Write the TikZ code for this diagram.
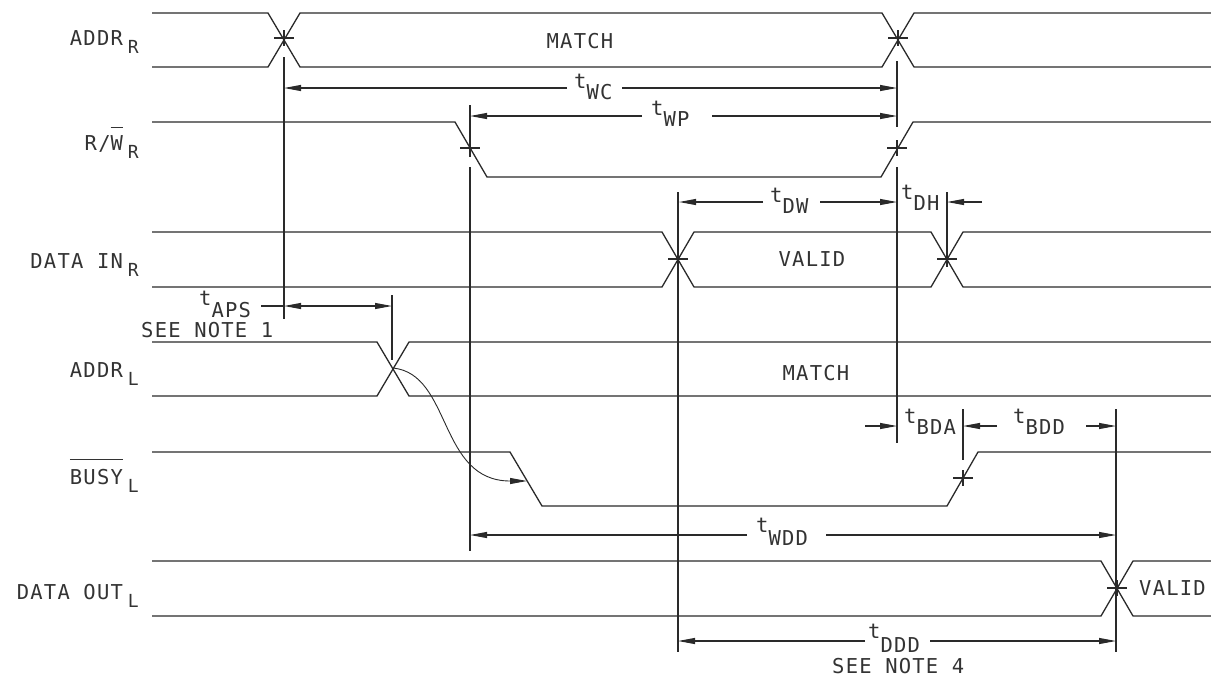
\documentclass[tikz,border=0pt]{standalone}
\usepackage{fontspec}
\newfontfamily\cad[LetterSpace=6]{DejaVu Sans Mono}
\usetikzlibrary{arrows.meta}
\definecolor{ink}{HTML}{2A2A2A}
\definecolor{txt}{HTML}{333333}
\newcommand\sg[1]{\hspace{5pt}\raisebox{-8pt}{\fontsize{18}{18}\selectfont #1}}
\newcommand\tsb[1]{\raisebox{-11pt}{#1}}
\newcommand\ovl[2]{\setbox0\hbox{#2}\rlap{\rule[#1]{\wd0}{1pt}}#2}
\tikzset{
  sig/.style={ink, line width=1.3pt},
  ext/.style={ink, line width=1.1pt},
  tk/.style={ink, line width=1.1pt},
  dim/.style={ink, line width=1.1pt, -{Triangle[length=17pt,width=6pt]}},
  lbl/.style={inner sep=0pt, text=txt, font=\cad\fontsize{20.5}{24}\selectfont},
}
\newcommand\crossmk[2]{\draw[tk] (#1,#2) +(-10,0) -- +(10,0) +(0,-8) -- +(0,8);}
\begin{document}
\begin{tikzpicture}[x=1pt,y=-1pt]
\useasboundingbox (0,0) rectangle (1211,681);

% ---------- signal names ----------
\node[lbl, anchor=base east] (nAddrR) at (139,45) {ADDR\sg{R}};
\node[lbl, anchor=base east] (nRwR) at (139,150) {R/\ovl{22pt}{W}\sg{R}};
\node[lbl, anchor=base east] (nDinR) at (139,268) {DATA IN\sg{R}};
\node[lbl, anchor=base east] (nAddrL) at (139,377) {ADDR\sg{L}};
\node[lbl, anchor=base east] (nBusyL) at (139,484) {\ovl{24pt}{BUSY}\sg{L}};
\node[lbl, anchor=base east] (nDoutL) at (139,599) {DATA OUT\sg{L}};

% ---------- waveforms ----------
% ADDR_R
\draw[sig] (152,13) -- (268,13) -- (300,67) -- (882,67) -- (914,13) -- (1211,13);
\draw[sig] (152,67) -- (268,67) -- (300,13) -- (882,13) -- (914,67) -- (1211,67);
\node[lbl, anchor=base] (mR) at (580,48) {MATCH};
% R/W_R
\draw[sig] (152,122) -- (455,122) -- (487,177) -- (881,177) -- (913,122) -- (1211,122);
% DATA IN_R
\draw[sig] (152,232) -- (662,232) -- (694,287) -- (931,287) -- (963,232) -- (1211,232);
\draw[sig] (152,287) -- (662,287) -- (694,232) -- (931,232) -- (963,287) -- (1211,287);
\node[lbl, anchor=base] (vR) at (812,266) {VALID};
% ADDR_L
\draw[sig] (152,342) -- (377,342) -- (409,396) -- (1211,396);
\draw[sig] (152,396) -- (377,396) -- (409,342) -- (1211,342);
\node[lbl, anchor=base] (mL) at (816,380) {MATCH};
% BUSY_L
\draw[sig] (152,452) -- (510,452) -- (542,506) -- (947,506) -- (978,452) -- (1211,452);
% DATA OUT_L
\draw[sig] (152,561) -- (1101,561) -- (1133,616) -- (1211,616);
\draw[sig] (152,616) -- (1101,616) -- (1133,561) -- (1211,561);
\node[lbl, anchor=base west] (vL) at (1139,595) {VALID};

% ---------- crossing marks ----------
\crossmk{284}{38}
\crossmk{898}{38}
\crossmk{470}{148}
\crossmk{897}{148}
\crossmk{678}{259}
\crossmk{947}{259}
\crossmk{963}{478}
\crossmk{1117}{588}

% ---------- extension lines ----------
\coordinate (a1) at (284,57);   \coordinate (a2) at (284,319);
\coordinate (b1) at (470,105);  \coordinate (b2) at (470,157);
\coordinate (b3) at (470,167);  \coordinate (b4) at (470,551);
\coordinate (c1) at (897,61);   \coordinate (c2) at (897,127);
\coordinate (c3) at (897,167);  \coordinate (c4) at (897,443);
\coordinate (d1) at (678,192);  \coordinate (d2) at (678,652);
\coordinate (e1) at (947,192);  \coordinate (e2) at (947,266);
\coordinate (f1) at (963,409);  \coordinate (f2) at (963,460);
\coordinate (g1) at (1116,409); \coordinate (g2) at (1116,652);
\coordinate (h1) at (392,295);  \coordinate (h2) at (392,360);
\draw[ext] (a1) -- (a2);
\draw[ext] (b1) -- (b2) (b3) -- (b4);
\draw[ext] (c1) -- (c2) (c3) -- (c4);
\draw[ext] (d1) -- (d2);
\draw[ext] (e1) -- (e2);
\draw[ext] (f1) -- (f2);
\draw[ext] (g1) -- (g2);
\draw[ext] (h1) -- (h2);

% ---------- timing labels ----------
\node[lbl, anchor=base west] (tWC) at (574,88) {t\tsb{WC}};
\node[lbl, anchor=base west] (tWP) at (651,115) {t\tsb{WP}};
\node[lbl, anchor=base west] (tDW) at (770,202) {t\tsb{DW}};
\node[lbl, anchor=base west] (tDH) at (901,199) {t\tsb{DH}};
\node[lbl, anchor=base west] (tAPS) at (199,305) {t\raisebox{-12pt}{APS}};
\node[lbl, anchor=base west] (n1) at (141,337) {SEE NOTE 1};
\node[lbl, anchor=base west] (tBDA) at (904,423) {t\tsb{BDA}};
\node[lbl, anchor=base west] (tBDD) at (1013,423) {t\tsb{BDD}};
\node[lbl, anchor=base west] (tWDD) at (756,532) {t\raisebox{-13pt}{WDD}};
\node[lbl, anchor=base west] (tDDD) at (868,638) {t\raisebox{-14pt}{DDD}};
\node[lbl, anchor=base west] (n4) at (832,673) {SEE NOTE 4};

% ---------- dimension arrows ----------
% t_WC
\coordinate (wcA) at (567,88);  \coordinate (wcL) at (284,88);
\coordinate (wcB) at (622,88);  \coordinate (wcR) at (897,88);
\draw[dim] (wcA) -- (wcL);
\draw[dim] (wcB) -- (wcR);
% t_WP
\coordinate (wpA) at (642,116); \coordinate (wpL) at (470,116);
\coordinate (wpB) at (712,116); \coordinate (wpR) at (897,116);
\draw[dim] (wpA) -- (wpL);
\draw[dim] (wpB) -- (wpR);
% t_DW
\coordinate (dwA) at (763,202); \coordinate (dwL) at (679,202);
\coordinate (dwB) at (820,202); \coordinate (dwR) at (897,202);
\draw[dim] (dwA) -- (dwL);
\draw[dim] (dwB) -- (dwR);
% t_DH
\coordinate (dhA) at (982,202); \coordinate (dhR) at (947,202);
\draw[dim] (dhA) -- (dhR);
% t_APS
\coordinate (apsT) at (261,306); \coordinate (apsL) at (284,306);
\coordinate (apsR) at (392,306);
\draw[ext] (apsT) -- (apsL);
\draw[dim, {Triangle[length=17pt,width=6pt]}-{Triangle[length=17pt,width=6pt]}] (apsL) -- (apsR);
% t_BDA / t_BDD
\coordinate (bdaA) at (865,426); \coordinate (bdaR) at (897,426);
\coordinate (bddA) at (997,426); \coordinate (bddL) at (963,426);
\coordinate (bddB) at (1086,426); \coordinate (bddR) at (1116,426);
\draw[dim] (bdaA) -- (bdaR);
\draw[dim] (bddA) -- (bddL);
\draw[dim] (bddB) -- (bddR);
% t_WDD
\coordinate (wdA) at (747,535); \coordinate (wdL) at (470,535);
\coordinate (wdB) at (826,535); \coordinate (wdR) at (1116,535);
\draw[dim] (wdA) -- (wdL);
\draw[dim] (wdB) -- (wdR);
% t_DDD
\coordinate (ddA) at (865,641); \coordinate (ddL) at (678,641);
\coordinate (ddB) at (930,641); \coordinate (ddR) at (1116,641);
\draw[dim] (ddA) -- (ddL);
\draw[dim] (ddB) -- (ddR);

% ---------- cause arrow ADDR_L -> BUSY_L ----------
\coordinate (cs) at (393,368);
\coordinate (ce) at (527,481);
\draw[dim, line width=0.9pt] (cs) .. controls (452,374) and (438,481) .. (ce);
\end{tikzpicture}
\end{document}
